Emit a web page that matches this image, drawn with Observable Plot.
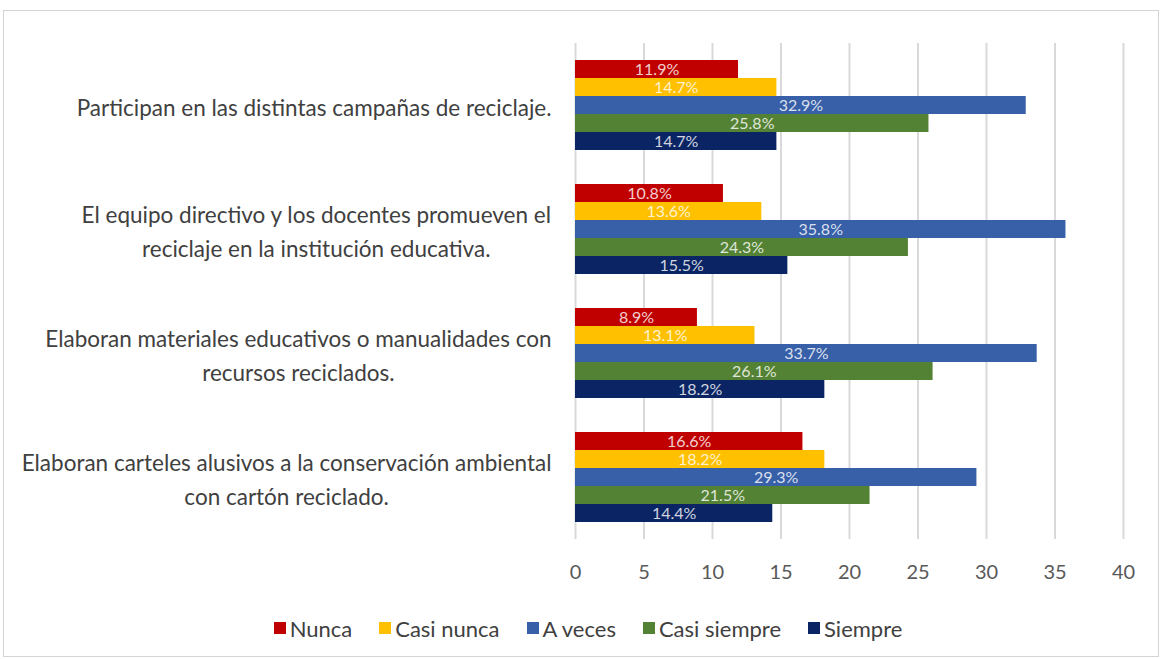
<!DOCTYPE html>
<html>
<head>
<meta charset="utf-8">
<script src="https://cdn.jsdelivr.net/npm/d3@7"></script>
<script src="https://cdn.jsdelivr.net/npm/@observablehq/plot@0.6"></script>
<style>
  html, body { margin: 0; padding: 0; background: #fff; }
  #frame { position: absolute; left: 3px; top: 10px; width: 1154px; height: 645px; border: 1px solid #d4d4d4; background: #fff; }
  #chart { position: absolute; left: 0; top: 0; }
  #legend { position: absolute; left: 0; top: 605px; width: 1154px; height: 24px; display: flex; justify-content: center; align-items: center; gap: 27px; font-family: Lato, sans-serif; font-size: 22px; color: #404040; padding-left: 14px; box-sizing: border-box; }
  .item { display: flex; align-items: center; }
  .sw { width: 12px; height: 12px; margin-right: 4px; }
</style>
</head>
<body>
<div id="frame">
  <div id="chart"></div>
  <div id="legend"></div>
</div>
<script>
const categories = [
  "Participan en las distintas campañas de reciclaje.",
  "El equipo directivo y los docentes promueven el\nreciclaje en la institución educativa.",
  "Elaboran materiales educativos o manualidades con\nrecursos reciclados.",
  "Elaboran carteles alusivos a la conservación ambiental\ncon cartón reciclado."
];
const series = ["Nunca", "Casi nunca", "A veces", "Casi siempre", "Siempre"];
const colors = ["#C00000", "#FFC000", "#3760A8", "#548235", "#0B2564"];
const nunca       = [11.9, 10.8, 8.9, 16.6];
const casiNunca   = [14.7, 13.6, 13.1, 18.2];
const aVeces      = [32.9, 35.8, 33.7, 29.3];
const casiSiempre = [25.8, 24.3, 26.1, 21.5];
const siempre     = [14.7, 15.5, 18.2, 14.4];
const xTicks = [0, 5, 10, 15, 20, 25, 30, 35, 40];

const seriesValues = [nunca, casiNunca, aVeces, casiSiempre, siempre];
const rows = [];
categories.forEach((c, i) => {
  series.forEach((s, j) => rows.push({category: c, series: s, value: seriesValues[j][i]}));
});

const FONT = "Lato, sans-serif";
const canvas = document.createElement("canvas");
const ctx = canvas.getContext("2d");
function w(text, size) { ctx.font = `${size}px Lato`; return ctx.measureText(text).width; }
// fit category font so the longest line is about 531px wide
const allLines = categories.flatMap(c => c.split("\n"));
const longest = allLines.reduce((a, b) => w(a, 20) > w(b, 20) ? a : b);
const catSize = Math.round(20 * 531 / w(longest, 20) * 10) / 10;

const catMarks = categories.map(c => {
  const maxW = Math.max(...c.split("\n").map(l => w(l, catSize)));
  return Plot.text([c], {
    fy: d => d, text: d => d, frameAnchor: "left", textAnchor: "middle",
    dx: -(24 + maxW / 2), fontSize: catSize, fill: "#404040", lineHeight: 1.5
  });
});

const chart = Plot.plot({
  width: 1154,
  height: 579,
  marginLeft: 571,
  marginRight: 35,
  marginTop: 31,
  marginBottom: 50,
  style: {fontFamily: FONT, background: "transparent", overflow: "visible"},
  x: {domain: [0, 40], ticks: xTicks, tickSize: 0, tickPadding: 26, label: null},
  y: {domain: series, padding: 0, insetTop: 15.75, insetBottom: 15.75, axis: null},
  fy: {domain: categories, padding: 0, axis: null},
  color: {domain: series, range: colors},
  marks: [
    Plot.ruleX(xTicks, {stroke: "#d9d9d9", strokeWidth: 2}),
    Plot.axisX({ticks: xTicks, tickSize: 0, tickPadding: 25, fontSize: 20, fill: "#595959", label: null}),
    Plot.barX(rows, {x: "value", y: "series", fy: "category", fill: "series"}),
    Plot.text(rows, {
      x: d => d.value / 2, y: "series", fy: "category",
      text: d => d.value.toFixed(1) + "%",
      fill: "white", fillOpacity: 0.82, fontSize: 16
    }),
    ...catMarks
  ]
});
document.getElementById("chart").appendChild(chart);

const legend = document.getElementById("legend");
series.forEach((s, i) => {
  const item = document.createElement("div");
  item.className = "item";
  const sw = document.createElement("span");
  sw.className = "sw";
  sw.style.background = colors[i];
  const t = document.createElement("span");
  t.textContent = s;
  item.appendChild(sw); item.appendChild(t);
  legend.appendChild(item);
});
</script>
</body>
</html>
